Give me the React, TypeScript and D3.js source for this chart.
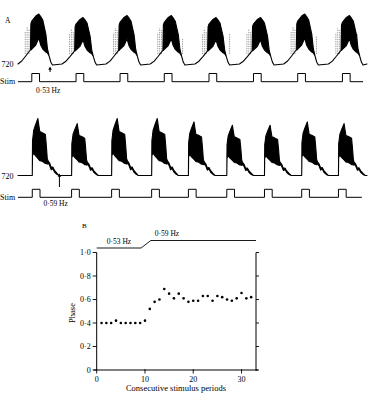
import * as d3 from 'd3';

const W = 373;
const H = 396;

// ---- Panel A: two intracellular traces (cell 720) with stimulus marker ----
// stimulus pulse onsets (s)
const stimOnsets1 = [0.59, 2.48, 4.36, 6.25, 8.16, 10.06, 11.95, 13.86];
const stimOnsets2 = [0.61, 2.29, 4.0, 5.71, 7.28, 8.92, 10.53, 12.12, 13.69];
const stimWidth = 0.33;
const stimEnd1 = 14.74;
const stimEnd2 = 14.69;
const traceEnd = 14.91;

// relative peak height of each burst
const peaks1 = [1.0, 0.93, 0.97, 0.97, 0.93, 0.93, 1.0, 0.97];
const peaks2 = [1.0, 0.91, 1.0, 1.0, 0.94, 0.88, 0.88, 0.94, 0.91];

// burst envelope: [time from pulse onset (s), upper, lower] (fraction of peak)
const burst1: number[][] = [
  [-0.6, 0, 0], [-0.43, 0.06, 0.06], [-0.26, 0.16, 0.16], [-0.13, 0.24, 0.24],
  [-0.06, 0.28, 0.28], [-0.04, 0.8, 0.28], [0, 0.86, 0.3], [0.17, 0.96, 0.38],
  [0.3, 1.0, 0.52], [0.38, 0.95, 0.38], [0.47, 0.88, 0.3], [0.6, 0.6, 0.24],
  [0.67, 0.3, 0.22], [0.74, 0.16, 0.16], [0.81, 0.04, 0.04], [0.88, -0.02, -0.02],
];
const burst2: number[][] = [
  [-0.02, 0, 0], [0, 0, 0], [0.01, 0.61, 0.35], [0.06, 0.79, 0.39], [0.13, 0.88, 0.35],
  [0.24, 1.0, 0.3], [0.28, 0.88, 0.28], [0.32, 0.77, 0.26], [0.43, 0.75, 0.25],
  [0.56, 0.72, 0.21], [0.6, 0.53, 0.21], [0.64, 0.3, 0.2], [0.67, 0.26, 0.22],
  [0.74, 0.22, 0.18], [0.81, 0.14, 0.1], [0.88, 0.15, 0.12], [0.95, 0.09, 0.06],
  [1.05, 0.04, 0.02], [1.14, 0, 0],
];
// single spikes before each burst of the first trace: [dt, top]
const preSpikes1 = [[-0.28, 0.64], [-0.2, 0.74], [-0.12, 0.7]];
// extra spikes on some falling phases: [burst, dt, top]
const postSpikes1 = [[3, 0.78, 0.5], [4, 0.88, 0.62], [6, 0.8, 0.55], [7, 0.64, 0.6]];
// arrows mark the frequency change (s)
const arrowTimes = [1.37, 1.77];

// ---- Panel B: phase of burst onset in consecutive stimulus periods ----
const periods = d3.range(1, 33);
const phase = [
  0.4, 0.4, 0.4, 0.42, 0.4, 0.4, 0.4, 0.4, 0.4, 0.42,
  0.52, 0.58, 0.6, 0.69, 0.65, 0.61, 0.65, 0.61, 0.58, 0.59,
  0.59, 0.63, 0.63, 0.59, 0.63, 0.62, 0.6, 0.59, 0.61, 0.655,
  0.61, 0.62,
];
const freqAt = [0, 9.2, 11.2, 33];
const freqHz = [0.53, 0.53, 0.59, 0.59];
const phaseTicks = [0, 0.2, 0.4, 0.6, 0.8, 1.0];
const periodTicks = [0, 10, 20, 30];

const font = '"Liberation Serif", "Times New Roman", serif';
const fmt = (v: number) => (v === 0 ? '0' : d3.format('.1f')(v).replace('.', '·'));

function buildTrace(onsets: number[], peaks: number[], tmpl: number[][]) {
  const pts: number[][] = [[0, 0, 0]];
  onsets.forEach((on, i) => {
    tmpl.forEach(([dt, hi, lo]) => {
      const t = Math.max(0, on + dt);
      if (t >= pts[pts.length - 1][0]) pts.push([t, hi * peaks[i], lo * peaks[i]]);
    });
  });
  pts.push([traceEnd, 0, 0]);
  return pts;
}

function buildStim(onsets: number[], end: number) {
  const pts: number[][] = [[0, 0]];
  onsets.forEach((on) => {
    pts.push([on, 0], [on, 1], [on + stimWidth, 1], [on + stimWidth, 0]);
  });
  pts.push([end, 0]);
  return pts;
}

const App = () => {
  const x = d3.scaleLinear().domain([0, traceEnd]).range([18, 367]);
  const yT1 = d3.scaleLinear().domain([0, 1]).range([64, 14]);
  const yT2 = d3.scaleLinear().domain([0, 1]).range([175.5, 118.5]);
  const yS1 = d3.scaleLinear().domain([0, 1]).range([81.7, 73.5]);
  const yS2 = d3.scaleLinear().domain([0, 1]).range([197.3, 189.3]);

  const area = (y: d3.ScaleLinear<number, number>) =>
    d3.area<number[]>().x((d) => x(d[0])).y0((d) => y(d[2])).y1((d) => y(d[1]));
  const stimLine = (y: d3.ScaleLinear<number, number>) =>
    d3.line<number[]>().x((d) => x(d[0])).y((d) => y(d[1]));

  const trace1 = buildTrace(stimOnsets1, peaks1, burst1);
  const trace2 = buildTrace(stimOnsets2, peaks2, burst2);

  const spikes: { t: number; top: number }[] = [];
  stimOnsets1.forEach((on, i) => {
    preSpikes1.forEach(([dt, top]) => spikes.push({ t: on + dt, top: top * peaks1[i] }));
  });
  postSpikes1.forEach(([b, dt, top]) => spikes.push({ t: stimOnsets1[b] + dt, top }));

  const xB = d3.scaleLinear().domain([0, 33]).range([96.7, 256]);
  const yB = d3.scaleLinear().domain([0, 1]).range([370, 252.5]);
  const yF = d3.scaleLinear().domain([0.53, 0.59]).range([248, 240.5]);
  const freqLine = d3.line<number>().x((_, i) => xB(freqAt[i])).y((d) => yF(d));

  const arrows = [
    { t: arrowTimes[0], tip: 66.5, tail: 72 },
    { t: arrowTimes[1], tip: 173.5, tail: 187 },
  ];

  return (
    <svg
      width={W}
      height={H}
      style={{ position: 'absolute', left: 0, top: 0, background: '#fff' }}
      fontFamily={font}
      fill="#000"
    >
      {/* Panel A */}
      <text x={5} y={22.5} fontSize={7.5}>A</text>
      <text x={1.5} y={66.5} fontSize={8}>720</text>
      <text x={0} y={84} fontSize={8}>Stim</text>
      <text x={36} y={92.5} fontSize={7.5}>0·53 Hz</text>
      <text x={1.5} y={178.5} fontSize={8}>720</text>
      <text x={0} y={200} fontSize={8}>Stim</text>
      <text x={43.5} y={206} fontSize={7.5}>0·59 Hz</text>

      {spikes.map((s, i) => (
        <line
          key={i}
          x1={x(s.t)}
          x2={x(s.t)}
          y1={yT1(0.2)}
          y2={yT1(s.top)}
          stroke="#555"
          strokeWidth={0.6}
          strokeDasharray="1.3 1"
        />
      ))}
      <path d={area(yT1)(trace1) ?? ''} fill="#000" stroke="#000" strokeWidth={1.1} strokeLinejoin="round" />
      <path d={area(yT2)(trace2) ?? ''} fill="#000" stroke="#000" strokeWidth={1.1} strokeLinejoin="round" />
      <path d={stimLine(yS1)(buildStim(stimOnsets1, stimEnd1)) ?? ''} fill="none" stroke="#000" strokeWidth={1} />
      <path d={stimLine(yS2)(buildStim(stimOnsets2, stimEnd2)) ?? ''} fill="none" stroke="#000" strokeWidth={1} />

      {arrows.map((a, i) => (
        <g key={i}>
          <line x1={x(a.t)} x2={x(a.t)} y1={a.tip + 2} y2={a.tail} stroke="#000" strokeWidth={1} />
          <path d={`M${x(a.t)},${a.tip}l-1.8,3.2h3.6z`} fill="#000" />
        </g>
      ))}

      {/* Panel B */}
      <text x={82} y={228} fontSize={7}>B</text>
      <path d={freqLine(freqHz) ?? ''} fill="none" stroke="#000" strokeWidth={0.9} />
      <text x={119} y={243.5} fontSize={7.5} textAnchor="middle">0·53 Hz</text>
      <text x={167} y={236} fontSize={7.5} textAnchor="middle">0·59 Hz</text>

      <line x1={xB(0)} x2={xB(0)} y1={yB(1)} y2={yB(0)} stroke="#000" strokeWidth={1} />
      <line x1={xB(33)} x2={xB(33)} y1={yB(1)} y2={yB(0) + 1} stroke="#000" strokeWidth={1} />
      <line x1={xB(0) - 3} x2={xB(33) + 2} y1={yB(0)} y2={yB(0)} stroke="#000" strokeWidth={1} />
      {phaseTicks.map((v) => (
        <g key={v}>
          <line x1={xB(0) - 4} x2={xB(0)} y1={yB(v)} y2={yB(v)} stroke="#000" strokeWidth={0.9} />
          <line x1={xB(33)} x2={xB(33) + 3} y1={yB(v)} y2={yB(v)} stroke="#000" strokeWidth={0.9} />
          <text x={xB(0) - 6} y={yB(v) + 2.8} fontSize={8} textAnchor="end">{fmt(v)}</text>
        </g>
      ))}
      {periodTicks.map((v) => (
        <g key={v}>
          <line x1={xB(v)} x2={xB(v)} y1={yB(0) - 1} y2={yB(0) + 3.5} stroke="#000" strokeWidth={0.9} />
          <text x={xB(v)} y={yB(0) + 12} fontSize={8} textAnchor="middle">{v}</text>
        </g>
      ))}
      {periods.map((p, i) => (
        <circle key={p} cx={xB(p)} cy={yB(phase[i])} r={1.3} fill="#000" />
      ))}
      <text transform="translate(75,313) rotate(-90)" fontSize={8.5} textAnchor="middle">Phase</text>
      <text x={176} y={391} fontSize={8.5} textAnchor="middle">Consecutive stimulus periods</text>
    </svg>
  );
};

export default App;
